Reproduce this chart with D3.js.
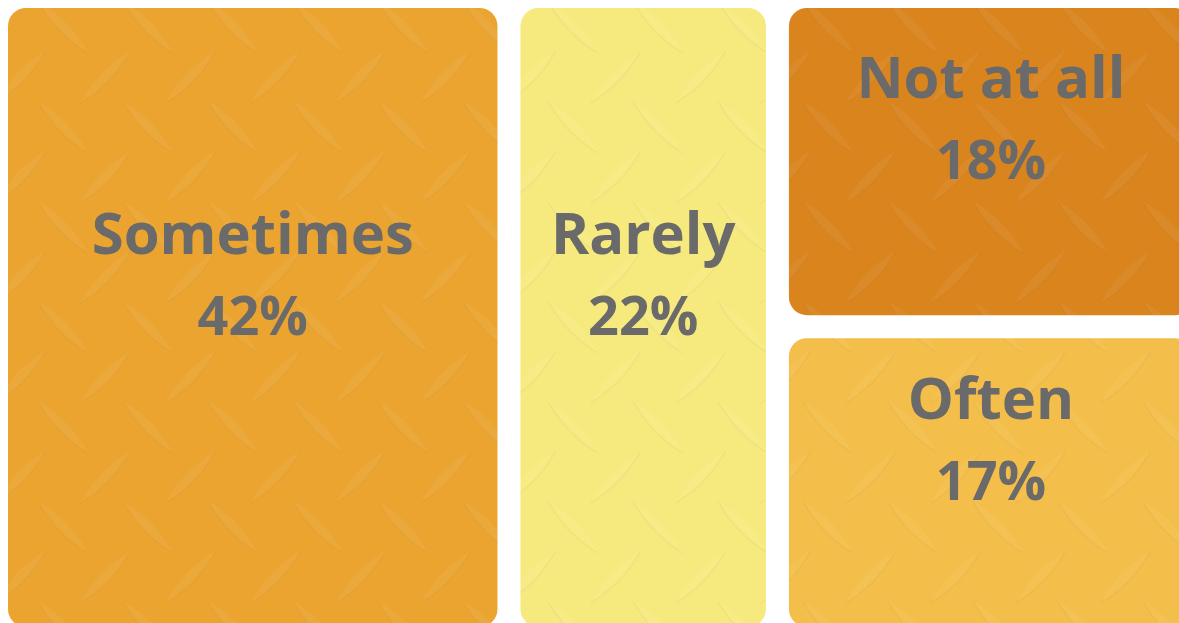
<!DOCTYPE html>
<html>
<head>
<meta charset="utf-8">
<script src="https://cdn.jsdelivr.net/npm/d3@7"></script>
<style>
  html, body { margin: 0; padding: 0; background: #ffffff; overflow: hidden; }
  svg { display: block; }
</style>
</head>
<body>
<svg id="chart" width="1179" height="623"></svg>
<script>
// ---- data ----
const categories = ["Sometimes", "Rarely", "Not at all", "Often"];
const values = [42, 22, 18, 17];
const valueLabels = ["42%", "22%", "18%", "17%"];
const groups = ["a", "b", "c", "c"]; // column grouping used by the layout
const colors = ["#EBA430", "#F6EA7E", "#D9841D", "#F3BE4A"];

const svg = d3.select("#chart");
const W = 1185, H = 619, offX = 8, offY = 8;

const byGroup = d3.groups(categories.map((c, i) => ({ name: c, value: values[i], label: valueLabels[i], color: colors[i], g: groups[i] })), d => d.g);
const treeData = {
  name: "root",
  children: byGroup.map(([g, items]) => items.length === 1 ? items[0] : { name: g, children: items })
};
const root = d3.hierarchy(treeData).sum(d => d.value || 0);
d3.treemap()
  .tile(d3.treemapSliceDice)
  .size([W, H])
  .paddingInner(23)
  .paddingOuter(0)(root);

// diamond-plate pattern
const defs = svg.append("defs");
const p = defs.append("pattern")
  .attr("id", "plate")
  .attr("patternUnits", "userSpaceOnUse")
  .attr("width", 85).attr("height", 100)
  .attr("x", 55 - 21).attr("y", 19 - 25);
const lens = "M-25,-26 Q7,-7 25,26 Q-7,7 -25,-26 Z";
const shadow = "M-25,-26 Q-7,7 25,26";
const place = [[21, 25, 1], [21 + 85, 25, 1], [21, 125, 1], [21 - 85, 25, 1], [21, -75, 1],
               [63.5, 75, -1], [63.5 - 85, 75, -1], [63.5, -25, -1], [63.5 - 85, -25, -1], [63.5 + 85, 75, -1]];
place.forEach(([x, y, s]) => {
  const gg = p.append("g").attr("transform", `translate(${x},${y}) scale(${s},1)`);
  gg.append("path").attr("d", lens).attr("fill", "#ffffff").attr("fill-opacity", 0.05);
  gg.append("path").attr("d", shadow).attr("fill", "none")
    .attr("stroke", "#7a4a00").attr("stroke-opacity", 0.045).attr("stroke-width", 2);
});

const leaves = root.leaves();
const g = svg.append("g").attr("transform", `translate(${offX},${offY})`);
const cell = g.selectAll("g.cell").data(leaves).join("g").attr("class", "cell");

cell.append("rect")
  .attr("x", d => d.x0).attr("y", d => d.y0)
  .attr("width", d => d.x1 - d.x0).attr("height", d => d.y1 - d.y0)
  .attr("rx", 18).attr("ry", 18)
  .attr("fill", d => d.data.color);
cell.append("rect")
  .attr("x", d => d.x0).attr("y", d => d.y0)
  .attr("width", d => d.x1 - d.x0).attr("height", d => d.y1 - d.y0)
  .attr("rx", 18).attr("ry", 18)
  .attr("fill", "url(#plate)");

const font = "'Open Sans', sans-serif";
cell.append("text")
  .attr("x", d => (d.x0 + d.x1) / 2)
  .attr("y", d => (d.y0 + d.y1) / 2 - 64)
  .attr("text-anchor", "middle")
  .attr("font-family", font).attr("font-weight", 700).attr("font-size", 58)
  .attr("fill", "#6a6a6a")
  .text(d => d.data.name);
cell.append("text")
  .attr("x", d => (d.x0 + d.x1) / 2)
  .attr("y", d => (d.y0 + d.y1) / 2 + 17)
  .attr("text-anchor", "middle")
  .attr("font-family", font).attr("font-weight", 700).attr("font-size", 54)
  .attr("fill", "#6a6a6a")
  .text(d => d.data.label);
</script>
</body>
</html>
